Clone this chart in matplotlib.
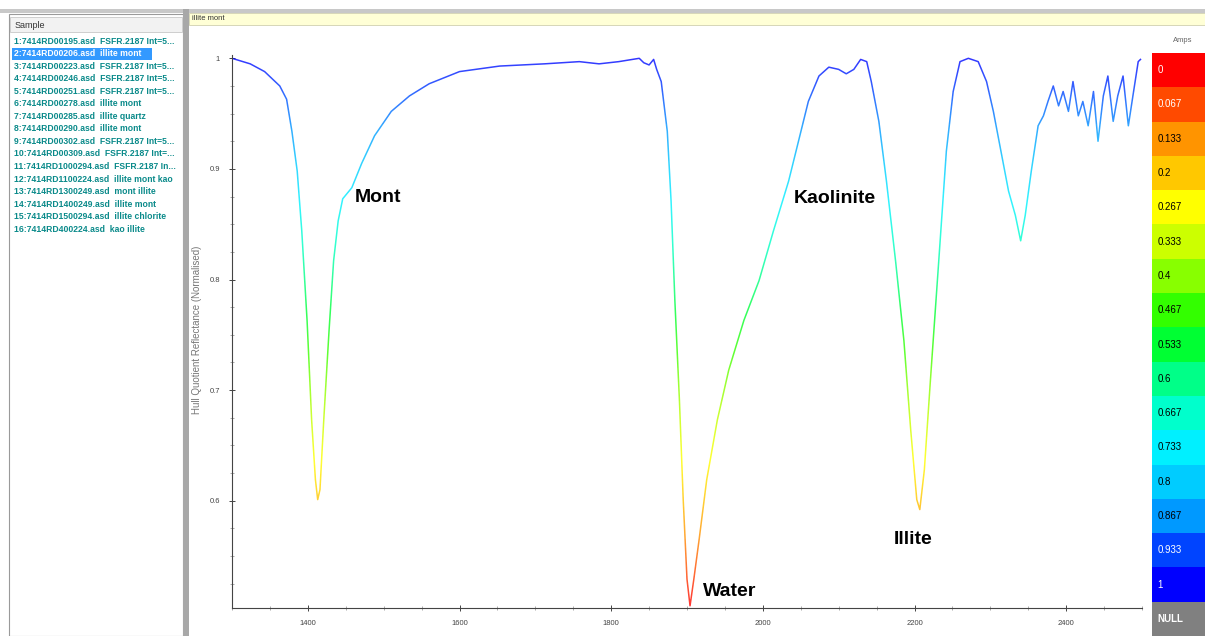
import numpy as np
import matplotlib
matplotlib.use("Agg")
import matplotlib.pyplot as plt
from matplotlib.patches import Rectangle
from matplotlib.colors import LinearSegmentedColormap
from matplotlib.ticker import MultipleLocator

plt.rcParams["font.family"] = ["Liberation Sans", "DejaVu Sans"]

W, H = 1205, 636

# spectrum (hull quotient)
wavelength = [1300, 1324, 1343, 1363, 1372, 1379, 1386, 1392, 1399, 1405, 1410, 1413,
              1416, 1421, 1428, 1434, 1440, 1446, 1458, 1471, 1488, 1510, 1534, 1560,
              1600, 1653, 1712, 1758, 1784, 1810, 1837, 1843, 1850, 1856, 1860, 1866,
              1874, 1879, 1884, 1890, 1895, 1900, 1904, 1909, 1916, 1926, 1940, 1955,
              1975, 1995, 2014, 2034, 2047, 2060, 2074, 2087, 2100, 2110, 2120, 2129,
              2137, 2143, 2153, 2163, 2175, 2186, 2195, 2203, 2207, 2213, 2221, 2232,
              2242, 2251, 2260, 2271, 2284, 2295, 2304, 2314, 2324, 2333, 2340, 2346,
              2354, 2363, 2370, 2376, 2383, 2390, 2396, 2403, 2409, 2416, 2422, 2429,
              2436, 2442, 2449, 2455, 2462, 2468, 2475, 2482, 2488, 2495, 2498]
reflect = [1.000, 0.995, 0.988, 0.975, 0.963, 0.934, 0.898, 0.844, 0.763, 0.673, 0.619, 0.601,
           0.610, 0.673, 0.754, 0.817, 0.853, 0.873, 0.883, 0.905, 0.930, 0.952, 0.966, 0.977,
           0.988, 0.993, 0.995, 0.997, 0.995, 0.997, 1.000, 0.996, 0.994, 0.999, 0.990, 0.979,
           0.934, 0.871, 0.781, 0.691, 0.601, 0.529, 0.505, 0.529, 0.565, 0.619, 0.673, 0.718,
           0.763, 0.799, 0.844, 0.889, 0.925, 0.961, 0.984, 0.992, 0.990, 0.986, 0.990, 0.999,
           0.997, 0.979, 0.943, 0.889, 0.817, 0.745, 0.664, 0.601, 0.592, 0.628, 0.709, 0.817,
           0.916, 0.970, 0.997, 1.000, 0.997, 0.979, 0.952, 0.916, 0.880, 0.858, 0.835, 0.858,
           0.898, 0.939, 0.948, 0.961, 0.975, 0.957, 0.970, 0.952, 0.979, 0.948, 0.961, 0.939,
           0.970, 0.925, 0.966, 0.984, 0.943, 0.966, 0.984, 0.939, 0.966, 0.997, 0.999]

# feature labels
feat_names = ["Mont", "Kaolinite", "Water", "Illite"]
feat_x = [1462, 2041, 1921, 2172]
feat_y = [0.874, 0.873, 0.518, 0.565]

# colour legend
cb_labels = ["0", "0.067", "0.133", "0.2", "0.267", "0.333", "0.4", "0.467",
             "0.533", "0.6", "0.667", "0.733", "0.8", "0.867", "0.933", "1", "NULL"]
cb_colors = ["#ff0000", "#ff4a00", "#ff9400", "#ffc800", "#ffff00", "#ccff00", "#88ff00",
             "#33ff00", "#00ff33", "#00ff88", "#00ffcc", "#00f0ff", "#00ccff", "#0099ff",
             "#0044ff", "#0000ff", "#808080"]

# sample list
samples = ["1:7414RD00195.asd  FSFR.2187 Int=5...",
           "2:7414RD00206.asd  illite mont",
           "3:7414RD00223.asd  FSFR.2187 Int=5...",
           "4:7414RD00246.asd  FSFR.2187 Int=5...",
           "5:7414RD00251.asd  FSFR.2187 Int=5...",
           "6:7414RD00278.asd  illite mont",
           "7:7414RD00285.asd  illite quartz",
           "8:7414RD00290.asd  illite mont",
           "9:7414RD00302.asd  FSFR.2187 Int=5...",
           "10:7414RD00309.asd  FSFR.2187 Int=...",
           "11:7414RD1000294.asd  FSFR.2187 In...",
           "12:7414RD1100224.asd  illite mont kao",
           "13:7414RD1300249.asd  mont illite",
           "14:7414RD1400249.asd  illite mont",
           "15:7414RD1500294.asd  illite chlorite",
           "16:7414RD400224.asd  kao illite"]
selected = 1

def fbox(x0, y0, x1, y1):
    return [x0 / W, 1 - y1 / H, (x1 - x0) / W, (y1 - y0) / H]

fig = plt.figure(figsize=(W / 100, H / 100), dpi=100)

# window chrome, in pixel units
bg = fig.add_axes([0, 0, 1, 1])
bg.set_xlim(0, W)
bg.set_ylim(H, 0)
bg.axis("off")
bg.add_patch(Rectangle((0, 9), W, 4, color="#c8c8c8", lw=0))
bg.add_patch(Rectangle((9, 14), 174, 622, facecolor="white", edgecolor="#9a9a9a", lw=0.8))
bg.add_patch(Rectangle((10, 17), 172, 15, facecolor="#f2f2f2", edgecolor="#c8c8c8", lw=0.6))
bg.text(15, 25, "Sample", fontsize=6.5, va="center", color="#333333")
bg.add_patch(Rectangle((183, 9), 6, 627, color="#a8a8a8", lw=0))
bg.add_patch(Rectangle((189, 13), W - 189, 12, facecolor="#ffffd6", edgecolor="#d0d0b0", lw=0.6))
bg.text(192, 19, "illite mont", fontsize=5.5, va="center", color="#333333")

for i, s in enumerate(samples):
    yy = 41 + 12.55 * i
    if i == selected:
        bg.add_patch(Rectangle((12, yy - 6), 140, 12, color="#3399ff", lw=0))
        col = "white"
    else:
        col = "#0a8a8a"
    bg.text(14, yy, s, fontsize=6.2, fontweight="bold", va="center", color=col)

bg.text(197, 330, "Hull Quotient Reflectance (Normalised)", rotation=90, fontsize=7,
        color="#777777", ha="center", va="center")

# main spectrum axes
ax = fig.add_axes(fbox(232, 55, 1142, 608))
ax.set_facecolor("none")
ymin, ymax = 0.503, 1.003
xmin, xmax = 1300, 2500
ax.set_xlim(xmin, xmax)
ax.set_ylim(ymin, ymax)

cmap = LinearSegmentedColormap.from_list("hq", cb_colors[:16])
nb = 120
edges = np.linspace(ymin, ymax, nb + 1)
for k in range(nb):
    rect = Rectangle((xmin, edges[k]), xmax - xmin, edges[k + 1] - edges[k],
                     transform=ax.transData)
    frac = (0.5 * (edges[k] + edges[k + 1]) - ymin) / (ymax - ymin)
    ln, = ax.plot(wavelength, reflect, color=cmap(frac), lw=1.1, alpha=0.8)
    ln.set_clip_path(rect)

for name, fx, fy in zip(feat_names, feat_x, feat_y):
    ax.text(fx, fy, name, fontsize=14, fontweight="bold", va="center", ha="left")

for side in ["top", "right"]:
    ax.spines[side].set_visible(False)
for side in ["left", "bottom"]:
    ax.spines[side].set_color("#444444")
    ax.spines[side].set_linewidth(0.8)
ax.xaxis.set_major_locator(MultipleLocator(200))
ax.xaxis.set_minor_locator(MultipleLocator(50))
ax.yaxis.set_major_locator(MultipleLocator(0.1))
ax.yaxis.set_minor_locator(MultipleLocator(0.025))
ax.tick_params(which="major", direction="inout", length=5, width=0.7, labelsize=5.5,
               colors="#444444", pad=6)
ax.tick_params(which="minor", direction="inout", length=3, width=0.5, colors="#888888")
ax.set_yticks([0.6, 0.7, 0.8, 0.9, 1.0])
ax.set_yticklabels(["0.6", "0.7", "0.8", "0.9", "1"])

# colour legend
cax = fig.add_axes(fbox(1152, 53, W, 636))
cax.set_xlim(0, 1)
cax.set_ylim(len(cb_labels), 0)
cax.axis("off")
for i, (lab, c) in enumerate(zip(cb_labels, cb_colors)):
    cax.barh(i + 0.5, 1, height=1, color=c, left=0)
    tc = "white" if lab in ("0", "0.067", "0.933", "1", "NULL") else "black"
    cax.text(0.1, i + 0.5, lab, fontsize=7, color=tc, va="center", ha="left",
             fontweight="bold" if lab == "NULL" else "normal")
bg.text(1183, 41, "Amps", fontsize=5.5, color="#666666", ha="center", va="center")

fig.savefig("out.png", dpi=100)
